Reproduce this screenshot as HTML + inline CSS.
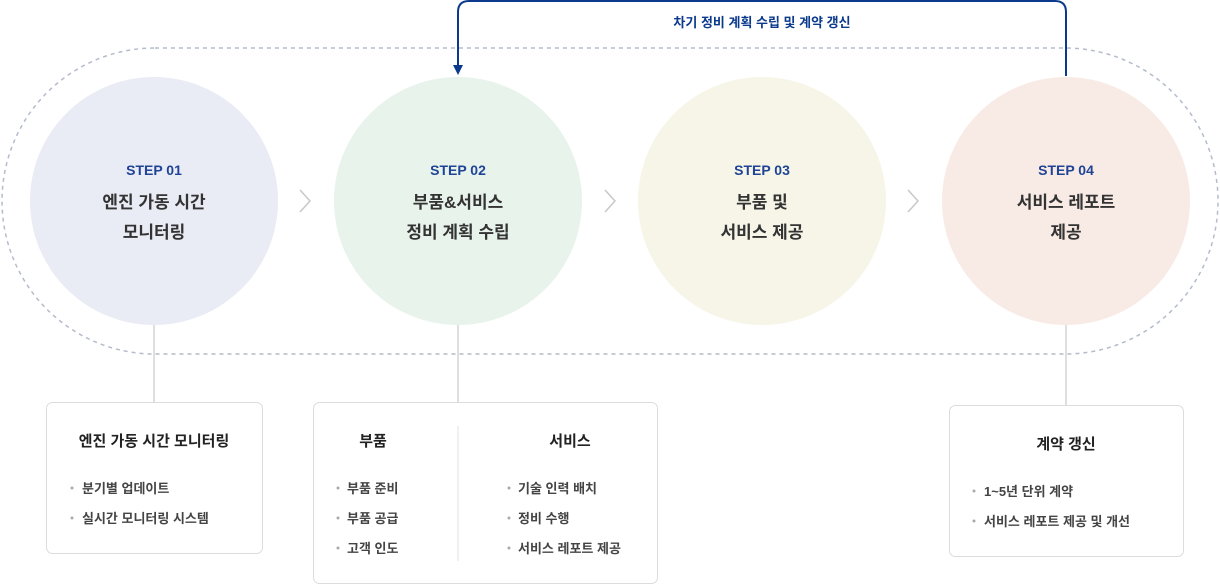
<!DOCTYPE html>
<html><head><meta charset="utf-8"><style>
html,body{margin:0;padding:0;background:#fff;}
svg{display:block;font-family:"Liberation Sans","Noto Sans CJK KR",sans-serif;}
</style></head><body>
<svg width="1220" height="585" viewBox="0 0 1220 585" xmlns="http://www.w3.org/2000/svg">
<rect x="2" y="48" width="1216" height="306" rx="153" fill="none" stroke="#b4bccb" stroke-width="1.5" stroke-dasharray="4,4"/>
<path d="M1066,76 V12 Q1066,1 1055,1 H469 Q458,1 458,12 V66" fill="none" stroke="#0b3a8c" stroke-width="2"/>
<path d="M453,65 L463,65 L458,75 Z" fill="#0b3a8c"/>
<text x="762" y="27" text-anchor="middle" font-size="13" font-weight="bold" fill="#0b3a8c">차기 정비 계획 수립 및 계약 갱신</text>
<g stroke="#d4d4d4" stroke-width="1.5"><line x1="154" y1="325" x2="154" y2="402"/><line x1="458" y1="325" x2="458" y2="402"/><line x1="1066" y1="325" x2="1066" y2="405"/></g>
<circle cx="154" cy="201" r="124" fill="#e9ebf5"/>
<circle cx="458" cy="201" r="124" fill="#e8f3eb"/>
<circle cx="762" cy="201" r="124" fill="#f6f5e8"/>
<circle cx="1066" cy="201" r="124" fill="#f8ebe6"/>
<g fill="none" stroke="#c8c8c8" stroke-width="1.5"><path d="M300,190 L310,201 L300,212"/><path d="M605,190 L615,201 L605,212"/><path d="M908,190 L918,201 L908,212"/></g>
<g text-anchor="middle" font-weight="bold">
<g font-size="14" fill="#1f4395"><text x="154" y="175">STEP 01</text><text x="458" y="175">STEP 02</text><text x="762" y="175">STEP 03</text><text x="1066" y="175">STEP 04</text></g>
<g font-size="17" fill="#333"><text x="154" y="208">엔진 가동 시간</text><text x="154" y="238">모니터링</text>
<text x="458" y="208">부품&amp;서비스</text><text x="458" y="238">정비 계획 수립</text>
<text x="762" y="208">부품 및</text><text x="762" y="238">서비스 제공</text>
<text x="1066" y="208">서비스 레포트</text><text x="1066" y="238">제공</text></g>
</g>
<g fill="#fff" stroke="#dcdcdc" stroke-width="1"><rect x="46.5" y="402.5" width="216" height="151" rx="6"/><rect x="313.5" y="402.5" width="344" height="181" rx="6"/><rect x="949.5" y="405.5" width="234" height="151" rx="6"/></g>
<line x1="458" y1="426" x2="458" y2="561" stroke="#e0e0e0"/>
<g font-size="15" font-weight="bold" fill="#222" text-anchor="middle"><text x="154" y="446">엔진 가동 시간 모니터링</text><text x="373" y="446">부품</text><text x="570" y="446">서비스</text><text x="1066" y="449">계약 갱신</text></g>
<g font-size="13" fill="#444" font-weight="bold">
<g fill="#aaa"><circle cx="72" cy="488" r="1.5"/><circle cx="72" cy="518" r="1.5"/><circle cx="338" cy="488" r="1.5"/><circle cx="338" cy="518" r="1.5"/><circle cx="338" cy="548" r="1.5"/><circle cx="509" cy="488" r="1.5"/><circle cx="509" cy="518" r="1.5"/><circle cx="509" cy="548" r="1.5"/><circle cx="974" cy="491" r="1.5"/><circle cx="974" cy="521" r="1.5"/></g>
<text x="82" y="493">분기별 업데이트</text><text x="82" y="523">실시간 모니터링 시스템</text>
<text x="347" y="493">부품 준비</text><text x="347" y="523">부품 공급</text><text x="347" y="553">고객 인도</text>
<text x="518" y="493">기술 인력 배치</text><text x="518" y="523">정비 수행</text><text x="518" y="553">서비스 레포트 제공</text>
<text x="984" y="496">1~5년 단위 계약</text><text x="984" y="526">서비스 레포트 제공 및 개선</text>
</g>
</svg>
</body></html>
